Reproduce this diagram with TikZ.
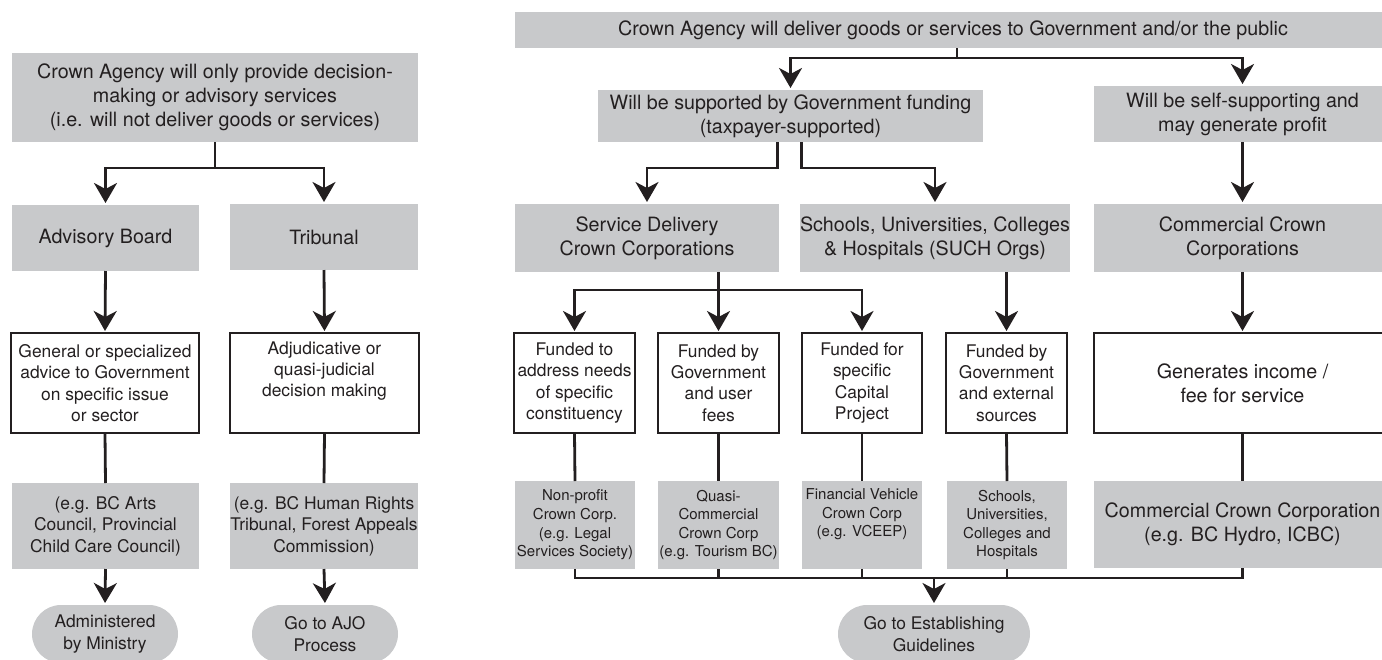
\documentclass[tikz,border=0pt]{standalone}
\usepackage{fontspec}
\setmainfont{TeX Gyre Heros}
\usetikzlibrary{arrows.meta,calc}
\definecolor{boxgray}{RGB}{200,201,203}
\definecolor{ink}{RGB}{35,31,32}

% box from corner (x1,y1) to (x2,y2), y measured downwards
\newcommand{\placebox}[7]{%
  \node[#1, minimum width={#5pt-#3pt}, minimum height={#6pt-#4pt}] (#2)
    at ({(#3+#5)/2},{(#4+#6)/2}) {#7};}

\tikzset{
  big/.style={font=\fontsize{19.7}{24}\selectfont},
  mid/.style={font=\fontsize{17.4}{21.4}\selectfont},
  small/.style={font=\fontsize{15.0}{18.6}\selectfont},
  gbox/.style={fill=boxgray, inner sep=0pt, outer sep=0pt, align=center, text=ink},
  wbox/.style={draw=ink, line width=2.8pt, fill=white, inner sep=0pt, outer sep=0pt, align=center, text=ink},
  pill/.style={fill=boxgray, rounded corners=29pt, inner sep=0pt, outer sep=0pt, align=center, text=ink},
  ln/.style={draw=ink, line width=2.8pt},
  arr/.style={ln, -{Stealth[length=20pt,width=23pt,inset=6pt]}, shorten >=2pt},
}

\begin{document}
\begin{tikzpicture}[x=1pt,y=-1pt]
\useasboundingbox (0,0) rectangle (1382,659);

% ---------- left column: decision-making / advisory agencies ----------
\placebox{gbox,big}{tl}{12}{53}{418}{142}{Crown Agency will only provide decision-\\making or advisory services\\(i.e. will not deliver goods or services)}
\placebox{gbox,big}{adv}{12}{205}{199}{271}{Advisory Board}
\placebox{gbox,big}{trib}{230}{204}{418}{270}{Tribunal}
\placebox{wbox,mid}{w1}{11}{333}{199}{433}{General or specialized\\advice to Government\\on specific issue\\or sector}
\placebox{wbox,mid}{w2}{230}{333}{419}{433}{Adjudicative or\\quasi-judicial\\decision making\\\strut}
\placebox{gbox,mid}{e1}{12}{483}{199}{569}{(e.g. BC Arts\\Council, Provincial\\Child Care Council)}
\placebox{gbox,mid}{e2}{230}{483}{418}{569}{(e.g. BC Human Rights\\Tribunal, Forest Appeals\\Commission)}
\placebox{pill,mid}{o1}{32}{605}{178}{663}{Administered\\by Ministry}
\placebox{pill,mid}{o2}{252}{605}{398}{663}{Go to AJO\\Process}

\draw[arr] (tl.south) -- ++(0,26) -| (adv.north);
\draw[arr] (tl.south) -- ++(0,26) -| (trib.north);
\draw[arr] (adv.south) -- (w1.north);
\draw[arr] (trib.south) -- (w2.north);
\draw[ln] (w1.south) -- (e1.north);
\draw[ln] (w2.south) -- (e2.north);
\draw[arr] (e1.south) -- (o1.north);
\draw[arr] (e2.south) -- (o2.north);

% ---------- right part: agencies delivering goods or services ----------
\placebox{gbox,big}{top}{515}{12}{1391}{48}{Crown Agency will deliver goods or services to Government and/or the public}
\placebox{gbox,big}{gov}{598}{90}{983}{142}{Will be supported by Government funding\\(taxpayer-supported)}
\placebox{gbox,big}{self}{1094}{86}{1391}{142}{Will be self-supporting and\\may generate profit}
\placebox{gbox,big}{sd}{515}{204}{779}{272}{Service Delivery\\Crown Corporations}
\placebox{gbox,big}{sch}{803}{204}{1067}{272}{Schools, Universities, Colleges\\\& Hospitals (SUCH Orgs)}
\placebox{gbox,big}{comm}{1094}{204}{1391}{272}{Commercial Crown\\Corporations}

\placebox{wbox,mid}{f1}{514}{333}{635}{433}{Funded to\\address needs\\of specific\\constituency}
\placebox{wbox,mid}{f2}{658}{333}{779}{433}{Funded by\\Government\\and user\\fees}
\placebox{wbox,mid}{f3}{802}{333}{922}{433}{Funded for\\specific\\Capital\\Project}
\placebox{wbox,mid}{f4}{946}{333}{1067}{433}{Funded by\\Government\\and external\\sources}
\placebox{wbox,big}{f5}{1094}{333}{1391}{433}{Generates income /\\fee for service}

\placebox{gbox,small}{g1}{515}{481}{635}{569}{Non-profit\\Crown Corp.\\(e.g. Legal\\Services Society)}
\placebox{gbox,small}{g2}{658}{481}{779}{569}{Quasi-\\Commercial\\Crown Corp\\(e.g. Tourism BC)}
\placebox{gbox,small}{g3}{802}{481}{922}{569}{Financial Vehicle\\Crown Corp\\(e.g. VCEEP)\\\strut}
\placebox{gbox,small}{g4}{947}{481}{1067}{569}{Schools,\\Universities,\\Colleges and\\Hospitals}
\placebox{gbox,big}{g5}{1094}{481}{1391}{568}{Commercial Crown Corporation\\(e.g. BC Hydro, ICBC)}
\placebox{pill,mid}{est}{838}{605}{1030}{663}{Go to Establishing\\Guidelines}

% top split
\draw[ln] ([xshift=4pt]top.south) -- ++(0,10) coordinate (j0);
\draw[arr] (j0) -| (gov.north);
\draw[arr] (j0) -| (self.north);

% funded branch
\draw[arr] ($(gov.south -| sd.east)+(-1.5,0)$) -- ++(0,26) -| (sd.north);
\draw[arr] ($(gov.south -| sch.west)+(1.5,0)$) -- ++(0,26) -| (sch.north);
\draw[arr] (self.south) -- (comm.north);

% service delivery split
\coordinate (j1) at ($(sd.south -| f2.north)+(0,18)$);
\draw[arr] (sd.south -| f2.north) -- (f2.north);
\draw[arr] (j1) -| (f1.north);
\draw[arr] (j1) -| (f3.north);
\draw[arr] (sch.south -| f4.north) -- (f4.north);
\draw[arr] (comm.south) -- (f5.north);

% funding boxes to examples
\foreach \i in {1,...,5} { \draw[ln] (f\i.south) -- (g\i.north); }

% collecting bus to guidelines
\coordinate (bus) at ($(g1.south)+(0,9)$);
\draw[ln] (g1.south) -- (bus) -| (g5.south);
\foreach \i in {2,3,4} { \draw[ln] (g\i.south) -- (g\i.south |- bus); }
\draw[arr] (bus -| est.north) -- (est.north);
\end{tikzpicture}
\end{document}
